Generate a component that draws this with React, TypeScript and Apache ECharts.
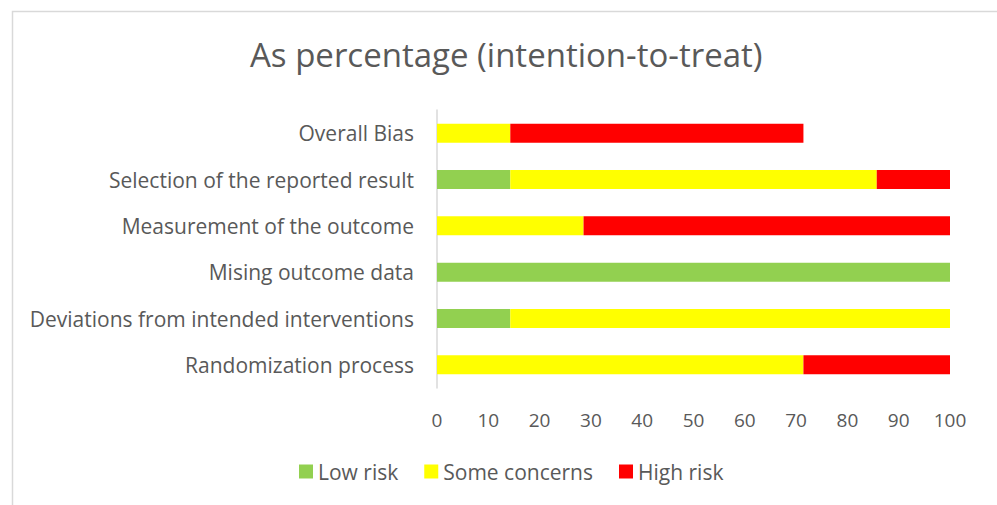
import React, { useEffect, useRef } from "react";
import * as echarts from "echarts";

const categories = [
  "Overall Bias",
  "Selection of the reported result",
  "Measurement of the outcome",
  "Mising outcome data",
  "Deviations from intended interventions",
  "Randomization process",
];
const lowRisk = [0, 14.29, 0, 100, 14.29, 0];
const someConcerns = [14.29, 71.43, 28.57, 0, 85.71, 71.43];
const highRisk = [57.14, 14.29, 71.43, 0, 0, 28.57];
const xTicks = [0, 10, 20, 30, 40, 50, 60, 70, 80, 90, 100];

const FONT = "'Open Sans', sans-serif";
const TXT = "#595959";

export default function App() {
  const ref = useRef<HTMLDivElement>(null);
  useEffect(() => {
    const chart = echarts.init(ref.current!, null, { renderer: "svg" });
    const mk = (name: string, data: number[], color: string) => ({
      name,
      type: "bar",
      stack: "total",
      data,
      barWidth: 19,
      itemStyle: { color },
      emphasis: { disabled: true },
    });
    chart.setOption({
      animation: false,
      textStyle: { fontFamily: FONT },
      title: {
        text: "As percentage (intention-to-treat)",
        left: 250,
        top: 38,
        padding: 0,
        textStyle: { fontFamily: FONT, fontSize: 33, fontWeight: "normal", color: TXT },
      },
      legend: {
        top: 461,
        left: 299,
        padding: 0,
        itemWidth: 14,
        itemHeight: 14,
        itemGap: 26,
        icon: "rect",
        textStyle: { fontFamily: FONT, fontSize: 21, color: TXT },
        data: ["Low risk", "Some concerns", "High risk"],
      },
      grid: { left: 437, right: 47, top: 110, bottom: 117, containLabel: false },
      xAxis: {
        type: "value",
        min: 0,
        max: 100,
        interval: 10,
        axisLine: { show: false },
        axisTick: { show: false },
        splitLine: { show: false },
        axisLabel: {
          margin: 22,
          fontFamily: FONT,
          fontSize: 19,
          color: TXT,
          formatter: (v: number) => (xTicks.includes(v) ? String(v) : ""),
        },
      },
      yAxis: {
        type: "category",
        data: categories,
        inverse: true,
        axisLine: { show: true, lineStyle: { color: "#d9d9d9", width: 1.5 } },
        axisTick: { show: false },
        axisLabel: { margin: 23, fontFamily: FONT, fontSize: 21, color: TXT },
      },
      graphic: [
        {
          type: "rect",
          shape: { x: 12.5, y: 11.5, width: 1100, height: 700 },
          style: { fill: "none", stroke: "#d9d9d9", lineWidth: 1.5 },
          silent: true,
        },
      ],
      series: [
        mk("Low risk", lowRisk, "#92D050"),
        mk("Some concerns", someConcerns, "#FFFF00"),
        mk("High risk", highRisk, "#FF0000"),
      ],
    });
    return () => chart.dispose();
  }, []);
  return (
    <div
      ref={ref}
      style={{ position: "fixed", left: 0, top: 0, width: 997, height: 505, background: "#fff" }}
    />
  );
}
